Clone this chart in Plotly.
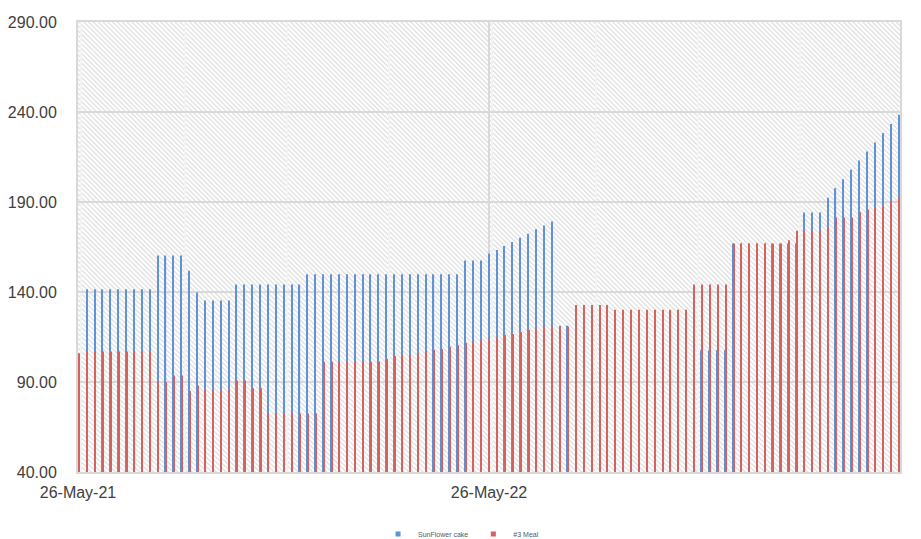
import base64
import pandas as pd
import plotly.graph_objects as go

# ---------------- data ----------------
start_date = "2021-05-27"
n_weeks = 105
dates = pd.date_range(start_date, periods=n_weeks, freq="7D")

series_names = ["SunFlower cake", "#3 Meal"]

sunflower_cake = [
    105.5,
    141.5, 141.5, 141.5, 141.5, 141.5, 141.5, 141.5, 141.5, 141.5,
    160.3, 160.3, 160.3, 160.3,
    151.8, 139.7,
    135.3, 135.3, 135.3, 135.3,
    144.1, 144.1, 144.1, 144.1, 144.1, 144.1, 144.1, 144.1, 144.1,
    149.9, 149.9, 149.9, 149.9, 149.9, 149.9, 149.9, 149.9, 149.9, 149.9,
    149.9, 149.9, 149.9, 149.9, 149.9, 149.9, 149.9, 149.9, 149.9, 149.9,
    157.5, 157.5, 157.5,
    161.4, 163.4, 165.6, 167.8, 170.2, 172.3, 174.8, 176.9, 179.2,
    121.3, 121.3,
    None, None, None, None, None, None, None, None,
    None, None, None, None, None, None, None, None,
    107.6, 107.6, 107.6, 107.6,
    167.0, 167.0, 167.0, 167.0, 167.0, 167.0, 167.0, 167.0, 167.0,
    184.1, 184.1, 184.1,
    192.4, 197.6, 202.7, 207.9, 213.0, 218.0, 223.1, 228.3, 233.3, 238.5,
]

meal_3 = [
    106.0,
    107.0, 107.0, 107.0, 107.0, 107.0, 107.0, 107.0, 107.0, 107.0,
    90.0, 90.0, 93.6, 93.6,
    85.0, 88.0,
    85.4, 85.4, 85.4, 85.4,
    90.9, 90.9, 86.5, 86.5,
    72.5, 72.5, 72.5, 72.5, 72.5, 72.5, 72.5,
    101.2, 101.2, 101.2, 101.2, 101.2, 101.2, 101.2, 101.2,
    102.8,
    104.6, 104.6, 104.6,
    105.8, 107.1, 107.8, 108.4, 109.6, 110.4, 111.7, 112.3, 113.0, 114.2,
    114.9, 116.1, 116.7, 117.8, 118.9, 119.8, 120.9, 120.9, 120.9, 120.9,
    132.8, 132.8, 132.8, 132.8, 132.8,
    130.1, 130.1, 130.1, 130.1, 130.1, 130.1, 130.1, 130.1, 130.1, 130.1,
    144.2, 144.2, 144.2, 144.2, 144.2,
    167.0, 167.0, 167.0, 167.0, 167.0, 167.0, 167.0,
    168.8,
    174.0, 174.0, 174.0, 174.0,
    175.6,
    181.4, 181.4, 181.4,
    184.3, 185.8, 187.2, 187.6, 190.4, 192.4,
]

x_tick_dates = ["2021-05-26", "2022-05-26", "2023-05-26"]
x_range = ["2021-05-26", "2023-05-26"]
y_range = [40, 290]

# ---------------- styling ----------------
BLUE = "#5F92D6"
RED = "#D4625F"
W, H = 921, 539
M_L, M_R, M_T, M_B = 78, 21, 22, 67
plot_w = W - M_L - M_R
plot_h = H - M_T - M_B

ms_per_px = (730 * 86400000) / plot_w
bar_w = 1.15 * ms_per_px

FONT = "Liberation Sans Narrow, Arial Narrow, Liberation Sans, sans-serif"

# hatch background (downward diagonal)
svg = f"""<svg xmlns='http://www.w3.org/2000/svg' width='{plot_w}' height='{plot_h}'>
<defs><pattern id='p' width='3.4' height='3.4' patternUnits='userSpaceOnUse' patternTransform='rotate(-45)'>
<rect x='0' y='0' width='1.3' height='3.4' fill='#dfdfdf'/></pattern></defs>
<rect width='100%' height='100%' fill='#ffffff'/>
<rect width='100%' height='100%' fill='url(#p)'/></svg>"""
svg_uri = "data:image/svg+xml;base64," + base64.b64encode(svg.encode()).decode()

fig = go.Figure()

fig.add_trace(go.Bar(
    x=dates, y=sunflower_cake, name=series_names[0],
    marker=dict(color=BLUE, line=dict(width=0)),
    width=bar_w, offset=-0.85 * ms_per_px, showlegend=False,
))
fig.add_trace(go.Bar(
    x=dates, y=meal_3, name=series_names[1],
    marker=dict(color=RED, line=dict(width=0)),
    width=bar_w, offset=-0.35 * ms_per_px, showlegend=False,
))
# legend entries (small square keys)
for nm, col in zip(series_names, [BLUE, RED]):
    fig.add_trace(go.Scatter(
        x=[None], y=[None], mode="markers", name=nm,
        marker=dict(symbol="square", size=5, color=col),
    ))

fig.update_layout(
    width=W, height=H,
    margin=dict(l=M_L, r=M_R, t=M_T, b=M_B, autoexpand=False),
    paper_bgcolor="white",
    plot_bgcolor="rgba(0,0,0,0)",
    barmode="overlay",
    font=dict(family=FONT, size=16, color="#404040"),
    images=[dict(
        source=svg_uri, xref="paper", yref="paper", x=0, y=1,
        sizex=1, sizey=1, sizing="stretch", xanchor="left", yanchor="top",
        layer="below",
    )],
    legend=dict(
        orientation="h", x=0.466, xanchor="center",
        yref="container", y=5 / H, yanchor="middle",
        font=dict(size=7, color="#595959", family=FONT),
        itemwidth=30, bgcolor="rgba(0,0,0,0)",
    ),
    showlegend=True,
)

fig.update_xaxes(
    type="date", range=x_range,
    tickvals=x_tick_dates, tickformat="%d-%b-%y",
    showgrid=True, gridcolor="#D9D9D9", gridwidth=2,
    minor=dict(dtick="M3", tick0="2021-05-26", showgrid=True,
               gridcolor="#F3F3F3", gridwidth=2),
    showline=True, linecolor="#D9D9D9", linewidth=2, mirror=True,
    ticks="", ticklabelstandoff=5, automargin=False,
    zeroline=False,
)
fig.update_yaxes(
    range=y_range, tick0=40, dtick=50, tickformat=".2f",
    showgrid=True, gridcolor="#D9D9D9", gridwidth=2,
    showline=True, linecolor="#D9D9D9", linewidth=2, mirror=True,
    ticks="", ticklabelstandoff=16, automargin=False,
    zeroline=False,
)

fig.write_html(
    "out.html",
    config={"displayModeBar": False},
    post_script="document.body.style.margin='0';document.body.style.overflow='hidden';",
)
